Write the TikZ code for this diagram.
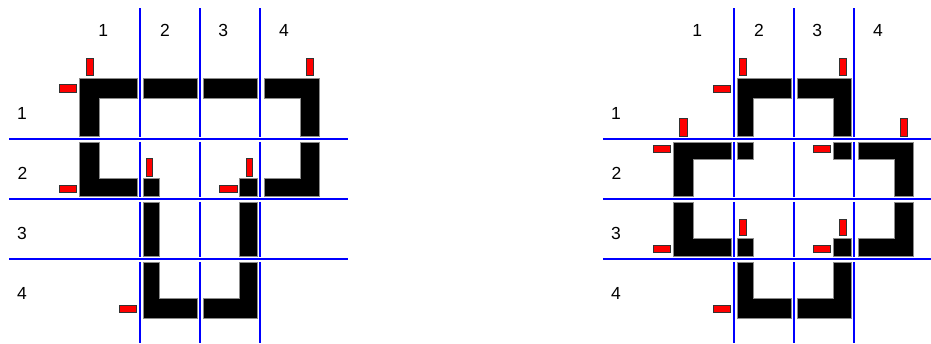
\documentclass[tikz,border=0pt]{standalone}
\usepackage{fontspec}
\setmainfont{Liberation Sans}
\definecolor{gridblue}{RGB}{0,0,255}
\tikzset{
  piece/.style={fill=black,draw=black!45,line width=0.7},
  redtab/.style={fill=red,draw=black!80,line width=0.9},
  gridline/.style={draw=gridblue,line width=2},
  lbl/.style={inner sep=0pt,font=\fontsize{17.5}{17.5}\selectfont}
}
\newcommand\pzlabels[1]{%
  \node[lbl] (#1c1) at (103.3,30.5) {1};
  \node[lbl] (#1c2) at (165,30.5) {2};
  \node[lbl] (#1c3) at (223.3,30.5) {3};
  \node[lbl] (#1c4) at (284,30.5) {4};
  \node[lbl] (#1r1) at (22,113.5) {1};
  \node[lbl] (#1r2) at (22.5,173) {2};
  \node[lbl] (#1r3) at (22,233) {3};
  \node[lbl] (#1r4) at (22,293.5) {4};
}
\newcommand\pzvlines{%
  \foreach \xx in {140,200,260}{
    \draw[gridline] (\xx,8) -- (\xx,136.5);
    \draw[gridline] (\xx,141.8) -- (\xx,196.5);
    \draw[gridline] (\xx,201.8) -- (\xx,257);
    \draw[gridline] (\xx,262) -- (\xx,343);
  }
}
\begin{document}
\begin{tikzpicture}[x=1pt,y=-1pt]
\useasboundingbox (0,0) rectangle (931,343);
\fill[white] (0,0) rectangle (931,343);

% ---------------- left diagram ----------------
\begin{scope}
  \foreach \yy in {139,199,259}{\draw[gridline] (9,\yy) -- (348,\yy);}
  \pzvlines
  \pzlabels{L}
  % row 1
  \draw[piece] (79.3,78)--(137.3,78)--(137.3,98)--(99.3,98)--(99.3,136.7)--(79.3,136.7)--cycle;
  \draw[piece] (143.3,78) rectangle (197.3,98);
  \draw[piece] (203.5,78) rectangle (257.5,98);
  \draw[piece] (264,78)--(319.3,78)--(319.3,136.7)--(300,136.7)--(300,98)--(264,98)--cycle;
  % row 2
  \draw[piece] (79.3,142.5)--(99.3,142.5)--(99.3,178.3)--(137.3,178.3)--(137.3,196.7)--(79.3,196.7)--cycle;
  \draw[piece] (143.3,178.3) rectangle (159.3,196.7);
  \draw[piece] (239.3,178.3) rectangle (257.5,196.7);
  \draw[piece] (300,142.5)--(319.3,142.5)--(319.3,196.7)--(264,196.7)--(264,178.3)--(300,178.3)--cycle;
  % row 3
  \draw[piece] (143.3,202.7) rectangle (159.3,256.3);
  \draw[piece] (239.3,202.7) rectangle (257.5,256.3);
  % row 4
  \draw[piece] (143.3,262.7)--(159.3,262.7)--(159.3,298.5)--(197.3,298.5)--(197.3,318.3)--(143.3,318.3)--cycle;
  \draw[piece] (239.3,262.7)--(257.5,262.7)--(257.5,318.3)--(203.5,318.3)--(203.5,298.5)--(239.3,298.5)--cycle;
  % red tabs
  \draw[redtab] (86,58.3) rectangle (93.3,75.7);
  \draw[redtab] (59,84.5) rectangle (76.7,92);
  \draw[redtab] (306.7,58.3) rectangle (313.3,75.7);
  \draw[redtab] (59,185) rectangle (76.7,192.3);
  \draw[redtab] (146.7,158.3) rectangle (152.7,176);
  \draw[redtab] (246,158.3) rectangle (252.7,176);
  \draw[redtab] (219.3,185) rectangle (237.7,192.3);
  \draw[redtab] (119.3,305.5) rectangle (136.7,312.3);
\end{scope}

% ---------------- right diagram ----------------
\begin{scope}[xshift=594pt]
  \foreach \yy in {139,199,259}{\draw[gridline] (9,\yy) -- (340,\yy);}
  \pzvlines
  \pzlabels{R}
  % row 1
  \draw[piece] (143.3,78)--(197.3,78)--(197.3,98)--(159.3,98)--(159.3,136.7)--(143.3,136.7)--cycle;
  \draw[piece] (203.5,78)--(257.5,78)--(257.5,136.7)--(239.3,136.7)--(239.3,98)--(203.5,98)--cycle;
  % row 2
  \draw[piece] (79.3,142.5)--(137.3,142.5)--(137.3,159)--(99.3,159)--(99.3,196.7)--(79.3,196.7)--cycle;
  \draw[piece] (143.3,142.5) rectangle (159.3,159);
  \draw[piece] (239.3,142.5) rectangle (257.5,159);
  \draw[piece] (264,142.5)--(319.3,142.5)--(319.3,196.7)--(300,196.7)--(300,159)--(264,159)--cycle;
  % row 3
  \draw[piece] (79.3,202.7)--(99.3,202.7)--(99.3,238.3)--(137.3,238.3)--(137.3,256.3)--(79.3,256.3)--cycle;
  \draw[piece] (143.3,238.3) rectangle (159.3,256.3);
  \draw[piece] (239.3,238.3) rectangle (257.5,256.3);
  \draw[piece] (300,202.7)--(319.3,202.7)--(319.3,256.3)--(264,256.3)--(264,238.3)--(300,238.3)--cycle;
  % row 4
  \draw[piece] (143.3,262.7)--(159.3,262.7)--(159.3,298.5)--(197.3,298.5)--(197.3,318.3)--(143.3,318.3)--cycle;
  \draw[piece] (239.3,262.7)--(257.5,262.7)--(257.5,318.3)--(203.5,318.3)--(203.5,298.5)--(239.3,298.5)--cycle;
  % red tabs
  \draw[redtab] (145.7,58.3) rectangle (152.4,75.5);
  \draw[redtab] (119,85) rectangle (136.4,92);
  \draw[redtab] (245.7,58.3) rectangle (252.4,75.5);
  \draw[redtab] (85.7,118.5) rectangle (93,136.5);
  \draw[redtab] (59,145) rectangle (76.4,152);
  \draw[redtab] (219.7,145) rectangle (236.4,152);
  \draw[redtab] (306.4,118.5) rectangle (313,136.5);
  \draw[redtab] (59,245) rectangle (76.4,252.3);
  \draw[redtab] (145.7,219.3) rectangle (152.4,235.7);
  \draw[redtab] (245.7,219.3) rectangle (252.4,235.7);
  \draw[redtab] (219.7,245) rectangle (236.4,252);
  \draw[redtab] (119,305) rectangle (136.4,312.3);
\end{scope}
\end{tikzpicture}
\end{document}
